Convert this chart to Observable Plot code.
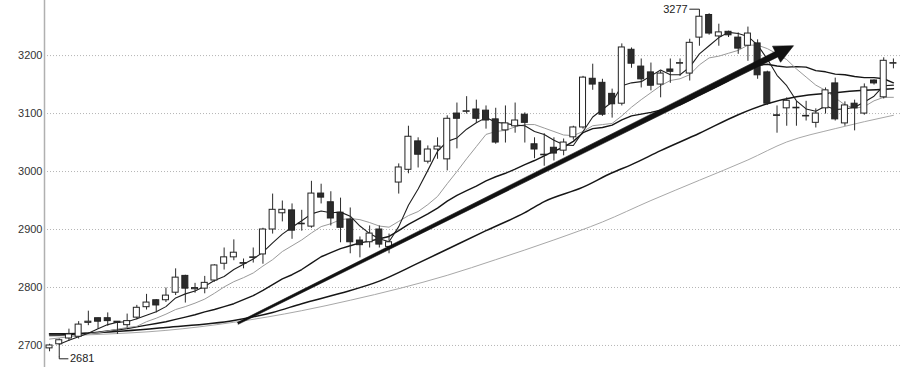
<!DOCTYPE html>
<html>
<head>
<meta charset="utf-8">
<script src="https://cdn.jsdelivr.net/npm/d3@7"></script>
<script src="https://cdn.jsdelivr.net/npm/@observablehq/plot@0.6"></script>
<style>
  html, body { margin: 0; padding: 0; background: #fff; }
  #chart svg { display: block; }
</style>
</head>
<body>
<div id="chart"></div>
<script>
// Daily candles, index 1..88 (left to right)
const opens = [2695, 2702, 2712, 2715, 2739, 2747, 2747, 2741, 2735, 2748,
  2766, 2778, 2778, 2791, 2820, 2797, 2798, 2812, 2841, 2852,
  2842, 2851, 2857, 2900, 2928, 2933, 2910, 2905, 2962, 2947,
  2929, 2917, 2881, 2878, 2900, 2870, 2981, 3003, 3052, 3017,
  3038, 3021, 3100, 3103, 3107, 3105, 3090, 3071, 3078, 3098,
  3047, 3029, 3041, 3036, 3059, 3076, 3160, 3153, 3134, 3117,
  3210, 3181, 3171, 3150, 3176, 3186, 3169, 3231, 3270, 3233,
  3241, 3231, 3217, 3221, 3171, 3097, 3109, 3110, 3096, 3084,
  3109, 3152, 3083, 3117, 3100, 3157, 3128, 3186];
const highs = [2703, 2712, 2729, 2742, 2760, 2748, 2757, 2742, 2755, 2770,
  2789, 2780, 2800, 2833, 2822, 2808, 2820, 2840, 2869, 2883,
  2850, 2869, 2903, 2962, 2950, 2945, 2934, 2984, 2979, 2966,
  2955, 2938, 2888, 2907, 2907, 2893, 3014, 3079, 3059, 3045,
  3059, 3097, 3119, 3130, 3124, 3114, 3110, 3114, 3119, 3102,
  3059, 3066, 3059, 3057, 3079, 3165, 3186, 3160, 3143, 3221,
  3214, 3195, 3188, 3174, 3195, 3195, 3229, 3277, 3273, 3255,
  3243, 3240, 3250, 3228, 3174, 3114, 3128, 3122, 3122, 3109,
  3145, 3162, 3121, 3124, 3152, 3159, 3197, 3195];
const lows = [2690, 2681, 2708, 2712, 2735, 2729, 2734, 2720, 2731, 2745,
  2762, 2757, 2775, 2787, 2774, 2791, 2790, 2810, 2831, 2847,
  2833, 2843, 2841, 2893, 2914, 2884, 2898, 2903, 2945, 2907,
  2878, 2859, 2852, 2869, 2869, 2859, 2962, 2997, 3007, 3014,
  3022, 3002, 3040, 3100, 3084, 3074, 3048, 3050, 3067, 3050,
  3023, 3010, 3019, 3028, 3055, 3074, 3141, 3096, 3093, 3114,
  3179, 3145, 3140, 3128, 3153, 3165, 3157, 3217, 3236, 3217,
  3232, 3203, 3191, 3160, 3115, 3067, 3079, 3079, 3088, 3076,
  3100, 3088, 3079, 3071, 3098, 3150, 3126, 3178];
const closes = [2700, 2709, 2719, 2736, 2741, 2741, 2742, 2739, 2742, 2765,
  2774, 2769, 2786, 2817, 2798, 2799, 2808, 2838, 2852, 2860,
  2841, 2852, 2900, 2934, 2934, 2898, 2909, 2962, 2955, 2919,
  2903, 2878, 2873, 2893, 2874, 2878, 3007, 3060, 3029, 3038,
  3043, 3091, 3091, 3104, 3091, 3088, 3050, 3083, 3088, 3084,
  3038, 3028, 3031, 3050, 3076, 3162, 3150, 3098, 3116, 3214,
  3186, 3159, 3148, 3169, 3172, 3187, 3222, 3267, 3238, 3240,
  3235, 3212, 3238, 3166, 3117, 3096, 3122, 3109, 3095, 3100,
  3140, 3090, 3114, 3109, 3145, 3152, 3191, 3187];

// Moving averages (5-day starts at candle 2, 10/20-day start at candle 1)
const ma5 = [2702, 2709, 2715, 2721, 2729, 2736, 2740, 2741, 2746,
  2752, 2758, 2767, 2782, 2789, 2794, 2802, 2812, 2819, 2831,
  2840, 2849, 2861, 2877, 2892, 2904, 2915, 2927, 2932, 2929,
  2930, 2923, 2906, 2893, 2884, 2879, 2905, 2942, 2970, 3002,
  3035, 3052, 3058, 3073, 3084, 3093, 3085, 3083, 3080, 3079,
  3069, 3064, 3054, 3046, 3045, 3069, 3094, 3107, 3120, 3148,
  3153, 3155, 3165, 3175, 3167, 3167, 3180, 3203, 3217, 3231,
  3240, 3238, 3233, 3218, 3194, 3166, 3148, 3122, 3108, 3104,
  3113, 3107, 3108, 3111, 3120, 3130, 3148, 3149];
const ma10 = [2711, 2713, 2715, 2717, 2720, 2722, 2725, 2728, 2731, 2733,
  2741, 2747, 2754, 2762, 2767, 2773, 2780, 2790, 2801, 2810,
  2817, 2825, 2837, 2848, 2862, 2872, 2882, 2894, 2905, 2910,
  2917, 2919, 2917, 2912, 2906, 2904, 2914, 2924, 2931, 2943,
  2957, 2979, 3000, 3022, 3043, 3064, 3069, 3071, 3077, 3081,
  3081, 3075, 3069, 3063, 3062, 3069, 3079, 3081, 3083, 3096,
  3111, 3124, 3136, 3148, 3157, 3160, 3167, 3184, 3196, 3199,
  3204, 3209, 3218, 3218, 3212, 3203, 3193, 3177, 3163, 3149,
  3140, 3127, 3115, 3109, 3112, 3122, 3128, 3128];
const ma20 = [2718, 2718, 2719, 2720, 2721, 2723, 2725, 2727, 2729, 2732,
  2735, 2738, 2741, 2745, 2749, 2753, 2758, 2762, 2767, 2772,
  2779, 2786, 2795, 2805, 2815, 2822, 2831, 2842, 2853, 2860,
  2867, 2872, 2877, 2880, 2884, 2888, 2898, 2909, 2918, 2927,
  2937, 2949, 2959, 2967, 2975, 2984, 2991, 2997, 3004, 3012,
  3019, 3027, 3035, 3042, 3052, 3067, 3074, 3076, 3080, 3089,
  3096, 3099, 3102, 3106, 3110, 3115, 3123, 3132, 3140, 3148,
  3157, 3167, 3177, 3183, 3185, 3182, 3180, 3181, 3180, 3174,
  3172, 3168, 3167, 3164, 3162, 3162, 3160, 3153];
// Slower averages: [candle index, level]
const maSlowBlack = [[1, 2720], [6, 2722], [13, 2731], [20, 2743], [24, 2757],
  [27, 2772], [31, 2790], [35, 2811], [39, 2842], [42, 2866], [46, 2898],
  [50, 2929], [52, 2948], [56, 2973], [59, 2998], [61, 3012], [64, 3036],
  [68, 3066], [72, 3098], [75, 3117], [78, 3129], [82, 3136], [85, 3140], [88, 3143]];
const maSlowGray = [[1, 2716], [6, 2719], [13, 2726], [20, 2740], [27, 2760],
  [32, 2778], [37, 2798], [42, 2821], [47, 2848], [53, 2882], [58, 2913],
  [63, 2950], [68, 2985], [73, 3020], [77, 3051], [82, 3074], [88, 3097]];

// Hand-drawn trend arrow: [candle index, level] for tail and tip
const trend = [[20.4, 2738], [77.7, 3217]];
// Marked extremes
const peak = {i: 68, value: 3277};
const trough = {i: 2, value: 2681};

const yTicks = [2700, 2800, 2900, 3000, 3100, 3200];

const W = 900, H = 367, ML = 44;
const xDomain = [0.48, 88.73];
const yDomain = [2662, 3295];

const candles = closes.map((close, k) => ({i: k + 1, open: opens[k], high: highs[k], low: lows[k], close}));
const rising = candles.filter(d => d.close >= d.open);
const falling = candles.filter(d => d.close < d.open);
const half = 0.31;

const seq = (values, start) => values.map((v, k) => ({i: k + start, v}));
const pts = arr => arr.map(([i, v]) => ({i, v}));

// pixels per data unit, used to shape the arrow polygon
const kx = (W - ML) / (xDomain[1] - xDomain[0]);
const ky = H / (yDomain[1] - yDomain[0]);
function arrowPolygon([[i0, v0], [i1, v1]], tailHalf, neckHalf, headHalf, headLen) {
  const px = (i1 - i0) * kx, py = -(v1 - v0) * ky;
  const len = Math.hypot(px, py);
  const ux = px / len, uy = py / len;
  const nx = -uy, ny = ux;
  const at = (bi, bv, ox, oy) => ({i: bi + ox / kx, v: bv - oy / ky});
  const bx = -ux * headLen, by = -uy * headLen;
  return [
    at(i0, v0, nx * tailHalf, ny * tailHalf),
    at(i1, v1, bx + nx * neckHalf, by + ny * neckHalf),
    at(i1, v1, bx + nx * headHalf, by + ny * headHalf),
    at(i1, v1, 0, 0),
    at(i1, v1, bx - nx * headHalf, by - ny * headHalf),
    at(i1, v1, bx - nx * neckHalf, by - ny * neckHalf),
    at(i0, v0, -nx * tailHalf, -ny * tailHalf)
  ];
}

const peakHook = [{i: peak.i - 1, v: peak.value + 3}, {i: peak.i, v: peak.value + 3}, {i: peak.i, v: peak.value}];
const troughHook = [{i: trough.i, v: trough.value}, {i: trough.i, v: trough.value - 4}, {i: trough.i + 0.9, v: trough.value - 4}];

const chart = Plot.plot({
  width: W,
  height: H,
  marginLeft: ML,
  marginRight: 0,
  marginTop: 0,
  marginBottom: 0,
  style: {fontFamily: "'Liberation Sans', Arial, sans-serif", fontSize: "11px", color: "#333", background: "#fff"},
  x: {domain: xDomain, axis: null},
  y: {domain: yDomain, ticks: yTicks, tickFormat: d => String(d), tickSize: 0, tickPadding: 2, label: null},
  marks: [
    Plot.ruleY(yTicks, {stroke: "#b5b5b5", strokeDasharray: "1,2"}),
    Plot.ruleX([xDomain[0]], {stroke: "#b0b0b0", strokeWidth: 1.5}),
    Plot.line(pts(maSlowGray), {x: "i", y: "v", stroke: "#a8a8a8", strokeWidth: 1, curve: "monotone-x"}),
    Plot.line(pts(maSlowBlack), {x: "i", y: "v", stroke: "#161616", strokeWidth: 1.5, curve: "monotone-x"}),
    Plot.line(seq(ma20, 1), {x: "i", y: "v", stroke: "#161616", strokeWidth: 1.4}),
    Plot.line(seq(ma10, 1), {x: "i", y: "v", stroke: "#9a9a9a", strokeWidth: 1}),
    Plot.line(seq(ma5, 2), {x: "i", y: "v", stroke: "#1e1e1e", strokeWidth: 1.1}),
    // wicks
    Plot.link(candles, {x1: "i", x2: "i", y1: "low", y2: "high", stroke: "#2a2a2a", strokeWidth: 1}),
    // bodies
    Plot.rect(rising, {x1: d => d.i - half, x2: d => d.i + half, y1: "open", y2: "close", fill: "#fff", stroke: "#222", strokeWidth: 1}),
    Plot.rect(falling, {x1: d => d.i - half, x2: d => d.i + half, y1: "open", y2: "close", fill: "#2b2b2b", stroke: "#222", strokeWidth: 1}),
    // trend arrow
    Plot.line(arrowPolygon(trend, 1, 3, 9, 19), {x: "i", y: "v", fill: "#111", stroke: "#111", strokeWidth: 0.6, curve: "linear"}),
    // extreme labels
    Plot.line(peakHook, {x: "i", y: "v", stroke: "#222", strokeWidth: 1}),
    Plot.text([peak], {x: d => d.i - 1, y: d => d.value + 3, text: d => String(d.value), textAnchor: "end", dx: -2, fill: "#222", fontSize: 11}),
    Plot.line(troughHook, {x: "i", y: "v", stroke: "#222", strokeWidth: 1}),
    Plot.text([trough], {x: d => d.i + 0.9, y: d => d.value - 4, text: d => String(d.value), textAnchor: "start", dx: 2, fill: "#222", fontSize: 11})
  ]
});
document.getElementById("chart").append(chart);
</script>
</body>
</html>
